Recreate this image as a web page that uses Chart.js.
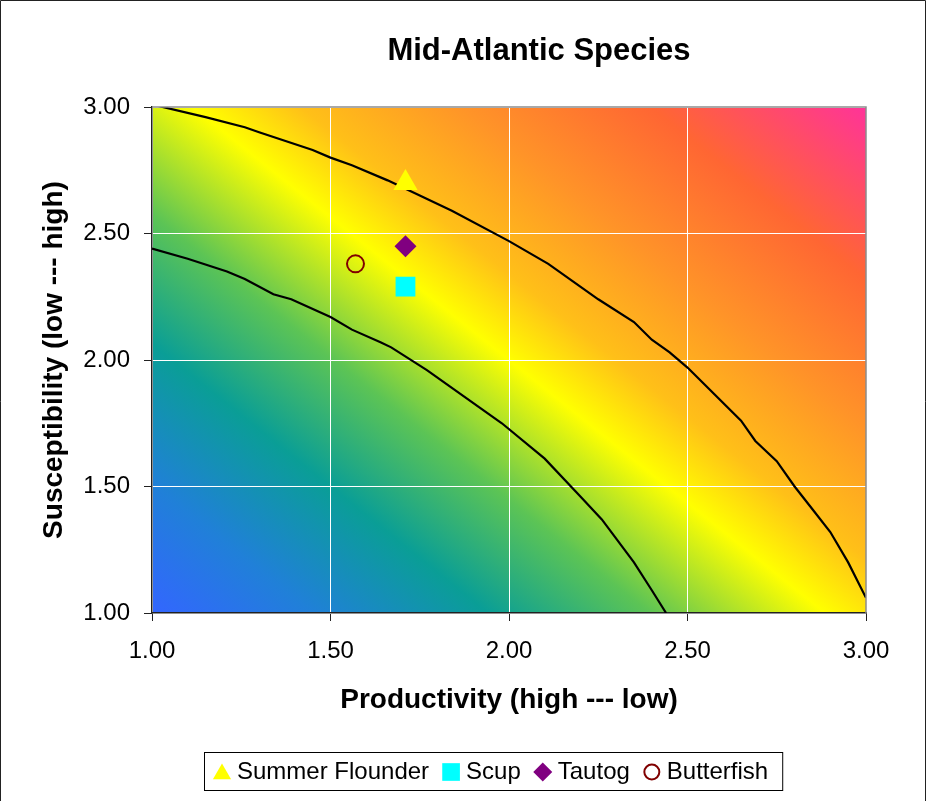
<!DOCTYPE html>
<html>
<head>
<meta charset="utf-8">
<script src="https://cdn.jsdelivr.net/npm/chart.js@4/dist/chart.umd.min.js"></script>
<style>
    html, body { margin: 0; padding: 0; background: #ffffff; }
    canvas { display: block; }
</style>
</head>
<body>
<canvas id="psa-chart" width="927" height="801"></canvas>
<script>
// species positions (productivity, susceptibility)
const speciesNames = ['Summer Flounder', 'Scup', 'Tautog', 'Butterfish']
const productivity = [1.71, 1.71, 1.71, 1.57]
const susceptibility = [2.70, 2.29, 2.45, 2.38]

// the two black contour lines
const innerCurveX = [1.00, 1.10, 1.21, 1.26, 1.34, 1.39, 1.50, 1.56, 1.64, 1.67, 1.77, 1.98, 2.10, 2.20, 2.26, 2.35, 2.40, 2.44]
const innerCurveY = [2.44, 2.40, 2.35, 2.32, 2.26, 2.24, 2.17, 2.12, 2.07, 2.05, 1.96, 1.75, 1.61, 1.46, 1.37, 1.20, 1.09, 1.00]
const outerCurveX = [1.00, 1.15, 1.26, 1.30, 1.45, 1.50, 1.56, 1.66, 1.75, 1.84, 2.00, 2.11, 2.25, 2.35, 2.40, 2.45, 2.50, 2.55, 2.65, 2.69, 2.75, 2.80, 2.85, 2.90, 2.95, 3.00]
const outerCurveY = [3.01, 2.96, 2.92, 2.90, 2.83, 2.80, 2.77, 2.71, 2.65, 2.59, 2.47, 2.38, 2.24, 2.15, 2.08, 2.03, 1.97, 1.90, 1.76, 1.68, 1.60, 1.50, 1.41, 1.32, 1.20, 1.06]

const tickValues = [1.00, 1.50, 2.00, 2.50, 3.00]

const markerStyles = ['triangle', 'rect', 'rectRot', 'circle']
const markerFill = ['#ffff00', '#00ffff', '#800080', 'rgba(0,0,0,0)']
const markerBorder = ['#ffff00', '#00ffff', '#800080', '#800000']
const markerRadius = [14, 14, 11, 8.5]
const legendRadius = [10.5, 12.5, 9.5, 7.5]

const fontFamily = '"Liberation Sans", Arial, Helvetica, sans-serif'

function toPoints(xs, ys) {
    let points = []
    for (let i = 0; i < xs.length; i++) {
        points.push({x: xs[i], y: ys[i]})
    }
    return points
}

let datasets = []
for (let i = 0; i < speciesNames.length; i++) {
    datasets.push({
        label: speciesNames[i],
        data: [{x: productivity[i], y: susceptibility[i]}],
        pointStyle: markerStyles[i],
        pointRadius: markerRadius[i],
        pointHoverRadius: markerRadius[i],
        backgroundColor: markerFill[i],
        borderColor: markerBorder[i],
        pointBorderWidth: i === 3 ? 2 : 0
    })
}
datasets.push({
    label: 'inner',
    data: toPoints(innerCurveX, innerCurveY),
    showLine: true,
    pointRadius: 0,
    borderColor: '#000000',
    borderWidth: 2.2,
    fill: false
})
datasets.push({
    label: 'outer',
    data: toPoints(outerCurveX, outerCurveY),
    showLine: true,
    pointRadius: 0,
    borderColor: '#000000',
    borderWidth: 2.2,
    fill: false
})

// diagonal colour ramp behind the plot
const gradientBackground = {
    id: 'gradientBackground',
    beforeDraw(chart) {
        const {ctx, chartArea: {left, top, right, bottom}} = chart
        const w = right - left
        const h = bottom - top
        const cx = left + w / 2
        const cy = top + h / 2
        // colour bands run a bit steeper than the plot diagonal
        let ux = 0.8, uy = -1
        const len = Math.sqrt(ux * ux + uy * uy)
        ux /= len
        uy /= len
        const reach = Math.abs(w / 2 * ux) + Math.abs(h / 2 * uy)
        const grad = ctx.createLinearGradient(cx - ux * reach, cy - uy * reach, cx + ux * reach, cy + uy * reach)
        grad.addColorStop(0.00, '#3366ff')
        grad.addColorStop(0.12, '#2080d8')
        grad.addColorStop(0.25, '#0a9e96')
        grad.addColorStop(0.37, '#5cc455')
        grad.addColorStop(0.50, '#ffff00')
        grad.addColorStop(0.58, '#ffc018')
        grad.addColorStop(0.70, '#ff9428')
        grad.addColorStop(0.84, '#ff6633')
        grad.addColorStop(1.00, '#ff3399')
        ctx.save()
        ctx.fillStyle = grad
        ctx.fillRect(left, top, w, h)
        ctx.restore()
    }
}

const frameAndText = {
    id: 'frameAndText',
    afterDraw(chart) {
        const {ctx, chartArea: {left, top, right, bottom}} = chart
        ctx.save()

        // grey plot border on top and right
        ctx.strokeStyle = '#8c8c8c'
        ctx.lineWidth = 1.5
        ctx.beginPath()
        ctx.moveTo(left, top)
        ctx.lineTo(right, top)
        ctx.lineTo(right, bottom)
        ctx.stroke()

        // outer chart frame
        ctx.strokeStyle = '#222222'
        ctx.lineWidth = 1
        ctx.beginPath()
        ctx.moveTo(0.5, 805)
        ctx.lineTo(0.5, 0.5)
        ctx.lineTo(925.5, 0.5)
        ctx.lineTo(925.5, 805)
        ctx.stroke()

        // title
        ctx.fillStyle = '#000000'
        ctx.font = 'bold 31px ' + fontFamily
        ctx.textAlign = 'center'
        ctx.textBaseline = 'alphabetic'
        ctx.fillText('Mid-Atlantic Species', 539, 60)

        // legend
        ctx.font = '24px ' + fontFamily
        ctx.textAlign = 'left'
        ctx.textBaseline = 'middle'
        const legendY = 772
        let x = 212
        for (let i = 0; i < speciesNames.length; i++) {
            const cx = x + 10
            ctx.fillStyle = markerFill[i]
            ctx.strokeStyle = markerBorder[i]
            const opts = {
                pointStyle: markerStyles[i],
                radius: legendRadius[i],
                rotation: 0,
                borderWidth: i === 3 ? 2 : 0
            }
            ctx.lineWidth = opts.borderWidth
            const py = markerStyles[i] === 'triangle' ? legendY + 2 : legendY
            if (Chart.helpers && Chart.helpers.drawPoint) {
                Chart.helpers.drawPoint(ctx, opts, cx, py)
            }
            const textX = cx + 15
            ctx.fillStyle = '#000000'
            ctx.fillText(speciesNames[i], textX, legendY)
            x = textX + ctx.measureText(speciesNames[i]).width + 12
        }
        const boxRight = x - 12 + 14
        ctx.strokeStyle = '#000000'
        ctx.lineWidth = 1
        ctx.strokeRect(204.5, 752.5, boxRight - 204, 38)

        ctx.restore()
    }
}

const axisTickColor = '#222222'

const psaChart = new Chart(document.getElementById('psa-chart'), {
    type: 'scatter',
    data: {datasets: datasets},
    options: {
        responsive: false,
        animation: false,
        devicePixelRatio: 1,
        layout: {
            padding: {top: 107, right: 61, bottom: 68, left: 0}
        },
        plugins: {
            legend: {display: false},
            title: {display: false},
            tooltip: {enabled: false}
        },
        scales: {
            x: {
                type: 'linear',
                min: 1,
                max: 3,
                afterBuildTicks: (axis) => {
                    axis.ticks = tickValues.map(v => ({value: v}))
                },
                afterFit: (axis) => {
                    axis.height = 120
                },
                ticks: {
                    callback: (v) => Number(v).toFixed(2),
                    color: '#000000',
                    padding: 16,
                    maxRotation: 0,
                    font: {family: fontFamily, size: 24}
                },
                grid: {
                    color: '#ffffff',
                    lineWidth: 1,
                    tickColor: axisTickColor,
                    tickLength: 8
                },
                border: {color: axisTickColor, width: 1.5},
                title: {
                    display: true,
                    text: 'Productivity (high --- low)',
                    color: '#000000',
                    padding: {top: 0, bottom: 16},
                    font: {family: fontFamily, size: 28, weight: 'bold'}
                }
            },
            y: {
                type: 'linear',
                min: 1,
                max: 3,
                afterBuildTicks: (axis) => {
                    axis.ticks = tickValues.map(v => ({value: v}))
                },
                afterFit: (axis) => {
                    axis.width = 152
                },
                ticks: {
                    callback: (v) => Number(v).toFixed(2),
                    color: '#000000',
                    padding: 14,
                    font: {family: fontFamily, size: 24}
                },
                grid: {
                    color: '#ffffff',
                    lineWidth: 1,
                    tickColor: axisTickColor,
                    tickLength: 8
                },
                border: {color: axisTickColor, width: 1.5},
                title: {
                    display: true,
                    text: 'Susceptibility (low --- high)',
                    color: '#000000',
                    padding: {top: 37, bottom: 0},
                    font: {family: fontFamily, size: 28, weight: 'bold'}
                }
            }
        }
    },
    plugins: [gradientBackground, frameAndText]
})
</script>
</body>
</html>
